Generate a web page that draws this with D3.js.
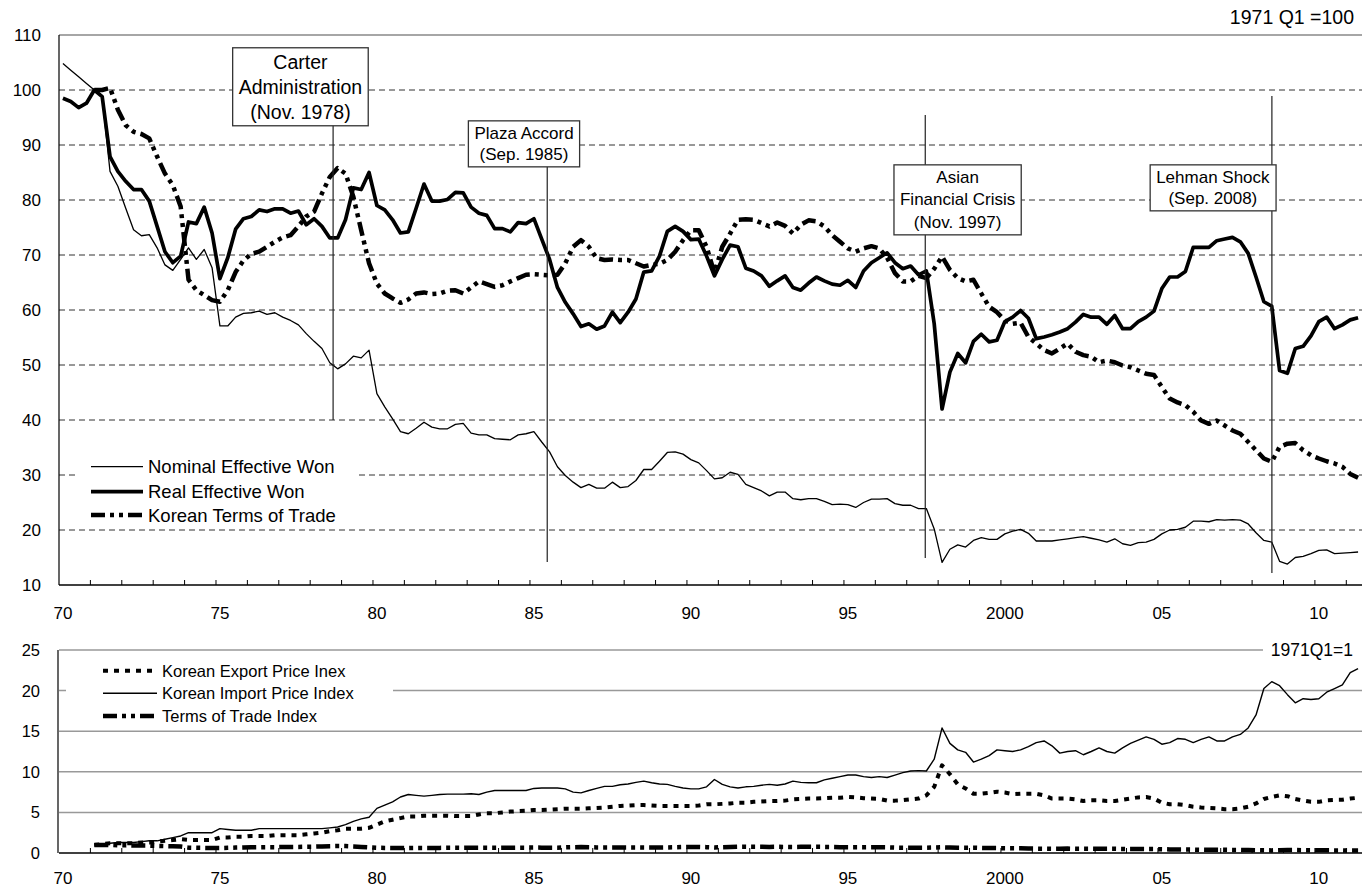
<!DOCTYPE html>
<html>
<head>
<meta charset="utf-8">
<script src="https://cdn.jsdelivr.net/npm/d3@7/dist/d3.min.js"></script>
<style>
  body { margin: 0; background: #fff; }
  svg { display: block; font-family: "Liberation Sans", Arial, sans-serif; }
</style>
</head>
<body>
<div id="chart"></div>
<script>
// ---- data (quarterly) ----
// top panel: 1970Q1 .. 2011Q2, 1971 Q1 = 100
const nominalWon = [
  104.8, 103.6, 102.4, 101.2,  100, 98.8, 85.2, 82.5,  78.5, 74.6, 73.5, 73.7,
  71.3, 68.2, 67.2, 69.2,  71.3, 69.2, 71, 67.7,  57.1, 57.1, 58.7, 59.4,
  59.5, 59.8, 59.2, 59.5,  58.7, 58.1, 57.3, 55.7,  54.3, 53, 50.4, 49.3,
  50.2, 51.6, 51.3, 52.7,  44.8, 42.4, 40.2, 37.9,  37.5, 38.5, 39.6, 38.7,
  38.4, 38.4, 39.2, 39.4,  37.6, 37.3, 37.3, 36.6,  36.5, 36.4, 37.3, 37.5,
  37.9, 36, 34.2, 31.5,  29.9, 28.7, 27.7, 28.3,  27.6, 27.6, 28.7, 27.7,
  27.9, 29, 31, 31,  32.5, 34.1, 34.2, 33.8,  32.8, 32.2, 30.8, 29.3,
  29.5, 30.5, 30.1, 28.3,  27.7, 27.1, 26.2, 26.9,  26.9, 25.7, 25.5, 25.7,
  25.7, 25.2, 24.6, 24.7,  24.6, 24.1, 25, 25.6,  25.6, 25.7, 24.8, 24.5,
  24.5, 23.9, 23.9, 20.2,  14.1, 16.5, 17.3, 16.9,  18.1, 18.6, 18.3, 18.3,
  19.3, 19.8, 20.1, 19.4,  18, 18, 18, 18.2,  18.4, 18.6, 18.8, 18.5,
  18.2, 17.8, 18.4, 17.5,  17.2, 17.7, 17.8, 18.3,  19.3, 20, 20.1, 20.5,
  21.6, 21.6, 21.5, 21.9,  21.8, 21.9, 21.8, 21.1,  19.5, 18.1, 17.8, 14.3,
  13.8, 15, 15.2, 15.7,  16.3, 16.4, 15.7, 15.8,  15.9, 16
];
const realWon = [
  98.5, 97.9, 96.8, 97.6,  100, 98.8, 87.9, 85.2,  83.4, 81.9, 81.9, 79.8,
  75.2, 70.6, 68.6, 69.8,  76, 75.7, 78.7, 74,  65.7, 69.5, 74.7, 76.6,
  77, 78.2, 77.9, 78.4,  78.4, 77.6, 78, 75.5,  76.6, 75.2, 73.1, 73.1,
  76.4, 82.2, 81.9, 85,  79, 78.2, 76.4, 74,  74.2, 78.5, 82.9, 79.8,
  79.8, 80.1, 81.4, 81.3,  78.7, 77.6, 77.2, 74.8,  74.8, 74.2, 75.9, 75.7,
  76.6, 72.9, 69.2, 64.1,  61.4, 59.3, 57, 57.5,  56.5, 57.1, 59.6, 57.7,
  59.6, 62, 66.9, 67.1,  69.8, 74.3, 75.2, 74.3,  72.8, 72.9, 69.8, 66.2,
  69.2, 71.8, 71.5, 67.6,  67.1, 66.2, 64.3, 65.3,  66.2, 64.1, 63.6, 64.9,
  66, 65.3, 64.7, 64.5,  65.4, 64.1, 67.1, 68.6,  69.5, 70.4, 68.6, 67.5,
  68, 66.4, 67.1, 57.5,  42, 48.7, 52.1, 50.4,  54.3, 55.6, 54.2, 54.5,
  57.9, 58.7, 59.9, 58.5,  54.8, 55.1, 55.5, 56,  56.6, 57.8, 59.2, 58.7,
  58.7, 57.4, 59, 56.6,  56.6, 57.9, 58.7, 59.8,  63.9, 66, 66, 67,
  71.4, 71.4, 71.4, 72.6,  72.9, 73.2, 72.4, 70.3,  66, 61.5, 60.7, 49,
  48.5, 53, 53.4, 55.3,  57.9, 58.7, 56.6, 57.3,  58.2, 58.6
];
// 1971Q1 .. 2011Q2
const termsOfTrade = [
  100, 100, 100.4, 96.4,  93.6, 92.4, 92, 91.2,  87.9, 84.8, 82.7, 78.8,
  65.5, 63.6, 62.7, 61.8,  61.5, 63.6, 66.9, 69,  70.2, 70.6, 71.5, 72.4,
  73.2, 73.6, 75.2, 77,  77.9, 81.2, 84.2, 85.8,  84.8, 80.6, 74.5, 68.5,
  64.8, 63, 62.1, 61.3,  61.9, 63, 63.2, 62.9,  63, 63.5, 63.6, 63,
  64.1, 65.2, 64.7, 64.2,  64.5, 65.2, 65.8, 66.4,  66.5, 66.4, 66.3, 66.4,
  68.5, 71.5, 72.7, 71.5,  69.4, 69.1, 69.2, 69.1,  69.1, 68.5, 67.9, 68.2,
  68.4, 69.1, 70.6, 72.7,  74.5, 74.5, 71.5, 66.7,  71.5, 73.9, 76.4, 76.5,
  76.4, 75.8, 75.2, 75.9,  75.3, 73.9, 75.5, 76.3,  76.1, 75.2, 73.6, 72.4,
  71.2, 70.6, 71.2, 71.6,  71.2, 69.5, 66.7, 65.2,  65.2, 66.2, 65.8, 67.5,
  69.7, 67.3, 65.8, 65.2,  65.5, 63, 60.6, 59.6,  58.1, 57.5, 57.7, 55.1,
  53.9, 52.7, 52.1, 53,  53.9, 52.4, 51.8, 51.5,  50.5, 50.8, 50.5, 49.9,
  49.6, 49, 48.4, 48.2,  46, 43.9, 43.2, 42.7,  41.5, 39.9, 39.3, 39.9,
  39, 38.1, 37.5, 36,  34.5, 33, 32.4, 35.1,  35.7, 35.8, 34.5, 33.6,
  33, 32.5, 32.1, 31.5,  30.2, 29.5
];

// bottom panel: 1971Q1 .. 2011Q2, 1971Q1 = 1
const exportPrice = [
  1, 1.1, 1.2, 1.2,  1.2, 1.2, 1.3, 1.3,  1.4, 1.5, 1.6, 1.7,  1.6, 1.6, 1.6, 1.6,
  1.9, 1.9, 2, 2,  2.1, 2.1, 2.1, 2.2,  2.2, 2.2, 2.2, 2.3,  2.4, 2.5, 2.7, 2.8,
  3, 3, 3, 3.1,  3.5, 3.9, 4.1, 4.3,  4.5, 4.5, 4.6, 4.6,  4.6, 4.6, 4.55, 4.55,
  4.55, 4.75, 4.9, 4.9,  5, 5.1, 5.15, 5.2,  5.3, 5.3, 5.35, 5.4,  5.45, 5.45, 5.45, 5.5,
  5.55, 5.6, 5.7, 5.8,  5.85, 5.9, 5.9, 5.85,  5.8, 5.8, 5.8, 5.8,  5.8, 5.85, 6, 6,
  6.05, 6.1, 6.2, 6.2,  6.3, 6.35, 6.4, 6.4,  6.45, 6.6, 6.65, 6.7,  6.7, 6.75, 6.8, 6.8,
  6.9, 6.85, 6.75, 6.7,  6.65, 6.45, 6.45, 6.5,  6.6, 6.7, 7.1, 8.15,  10.8, 9.7, 8.45, 7.95,
  7.3, 7.3, 7.4, 7.55,  7.45, 7.25, 7.3, 7.3,  7.3, 7.1, 6.7, 6.7,  6.7, 6.6, 6.4, 6.5,
  6.5, 6.4, 6.4, 6.55,  6.7, 6.85, 6.9, 6.7,  6.2, 6, 6, 5.9,  5.7, 5.6, 5.55, 5.5,
  5.4, 5.4, 5.5, 5.7,  6.1, 6.65, 6.9, 7.1,  7, 6.65, 6.45, 6.3,  6.3, 6.5, 6.55, 6.55,
  6.7, 6.8
];
const importPrice = [
  1, 1, 1.2, 1.3,  1.3, 1.3, 1.4, 1.5,  1.5, 1.7, 1.9, 2.1,  2.5, 2.5, 2.5, 2.5,
  3, 2.9, 2.8, 2.8,  2.8, 3, 3, 3,  3, 3, 3, 3,  3, 3, 3.1, 3.2,
  3.5, 3.9, 4.2, 4.4,  5.5, 5.9, 6.3, 6.9,  7.2, 7.1, 7, 7.1,  7.2, 7.25, 7.25, 7.25,
  7.3, 7.2, 7.5, 7.7,  7.7, 7.7, 7.7, 7.7,  7.95, 8, 8, 8,  7.9, 7.5, 7.4, 7.7,
  7.95, 8.2, 8.2, 8.4,  8.5, 8.7, 8.85, 8.65,  8.5, 8.45, 8.2, 8,  7.9, 7.9, 8.15, 9.05,
  8.45, 8.15, 8, 8.15,  8.2, 8.35, 8.45, 8.35,  8.5, 8.85, 8.7, 8.65,  8.65, 9, 9.2, 9.4,
  9.6, 9.6, 9.4, 9.3,  9.4, 9.3, 9.6, 9.9,  10.1, 10.15, 10.1, 11.55,  15.4, 13.5, 12.7, 12.4,
  11.2, 11.55, 12, 12.7,  12.6, 12.5, 12.7, 13.1,  13.6, 13.8, 13.2, 12.3,  12.5, 12.6, 12.1, 12.5,
  12.95, 12.5, 12.3, 12.95,  13.5, 13.9, 14.3, 14,  13.4, 13.6, 14.1, 14,  13.6, 14, 14.3, 13.8,
  13.8, 14.3, 14.6, 15.4,  17, 20.25, 21.1, 20.6,  19.5, 18.5, 19, 18.9,  19, 19.8, 20.25, 20.7,
  22.2, 22.7
];
const totIndex = [
  1, 1, 1, 0.96,  0.94, 0.92, 0.92, 0.91,  0.88, 0.85, 0.83, 0.79,  0.66, 0.64, 0.63, 0.62,
  0.62, 0.64, 0.67, 0.69,  0.7, 0.71, 0.72, 0.72,  0.73, 0.74, 0.75, 0.77,  0.78, 0.81, 0.84, 0.86,
  0.85, 0.81, 0.75, 0.69,  0.65, 0.63, 0.62, 0.61,  0.62, 0.63, 0.63, 0.63,  0.63, 0.64, 0.64, 0.63,
  0.64, 0.65, 0.65, 0.64,  0.65, 0.65, 0.66, 0.66,  0.67, 0.66, 0.66, 0.66,  0.69, 0.72, 0.73, 0.71,
  0.69, 0.69, 0.69, 0.69,  0.69, 0.69, 0.68, 0.68,  0.68, 0.69, 0.71, 0.73,  0.75, 0.75, 0.72, 0.67,
  0.72, 0.74, 0.76, 0.77,  0.76, 0.76, 0.75, 0.76,  0.75, 0.74, 0.76, 0.76,  0.76, 0.75, 0.74, 0.72,
  0.71, 0.71, 0.71, 0.72,  0.71, 0.7, 0.67, 0.65,  0.65, 0.66, 0.66, 0.68,  0.7, 0.67, 0.66, 0.65,
  0.66, 0.63, 0.61, 0.6,  0.58, 0.58, 0.58, 0.55,  0.54, 0.53, 0.52, 0.53,  0.54, 0.52, 0.52, 0.52,
  0.51, 0.51, 0.51, 0.5,  0.5, 0.49, 0.48, 0.48,  0.46, 0.44, 0.43, 0.43,  0.42, 0.4, 0.39, 0.4,
  0.39, 0.38, 0.38, 0.36,  0.35, 0.33, 0.32, 0.35,  0.36, 0.36, 0.35, 0.34,  0.33, 0.33, 0.32, 0.32,
  0.3, 0.3
];

const topTicks = [10, 20, 30, 40, 50, 60, 70, 80, 90, 100, 110];
const bottomTicks = [0, 5, 10, 15, 20, 25];
const yearLabels = [1970, 1975, 1980, 1985, 1990, 1995, 2000, 2005, 2010];
const yearLabelText = ["70", "75", "80", "85", "90", "95", "2000", "05", "10"];
const topLegend = ["Nominal Effective Won", "Real Effective Won", "Korean Terms of Trade"];
const bottomLegend = ["Korean Export Price Inex", "Korean Import Price Index", "Terms of Trade Index"];
const eventNames = [
  ["Carter", "Administration", "(Nov. 1978)"],
  ["Plaza Accord", "(Sep. 1985)"],
  ["Asian", "Financial Crisis", "(Nov. 1997)"],
  ["Lehman Shock", "(Sep. 2008)"]
];
const eventDates = [1978.73, 1985.55, 1997.59, 2008.63];

// ---- layout ----
const width = 1362, height = 889;
const dashDotDot = "14,5,4,5,4,5";

// where each event box sits and how far its line runs (value units)
const eventLayout = [
  { boxX: 1977.69, firstLine: 105.1, lineH: 25, size: 19.5, lineTop: 95, lineBottom: 40 },
  { boxX: 1984.81, firstLine: 92.2, lineH: 21, size: 17, lineTop: 93, lineBottom: 14.2 },
  { boxX: 1998.62, firstLine: 84.2, lineH: 22.5, size: 17, lineTop: 95.45, lineBottom: 14.9 },
  { boxX: 2006.75, firstLine: 84.2, lineH: 21, size: 17, lineTop: 98.9, lineBottom: 12.2 }
];

const svg = d3.select("#chart").append("svg")
  .attr("width", width)
  .attr("height", height);

const x = d3.scaleLinear().domain([1970, 2011.5]).range([59, 1362]);
const yTop = d3.scaleLinear().domain([10, 110]).range([585, 35]);
const yBot = d3.scaleLinear().domain([0, 25]).range([853, 650]);

function quarterPoints(values, startYear) {
  return values.map((v, i) => ({ t: startYear + (i + 0.5) / 4, v: v }));
}

function drawSeries(g, y, values, startYear, style) {
  const line = d3.line()
    .defined(d => d.v != null)
    .x(d => x(d.t))
    .y(d => y(d.v));
  g.append("path")
    .datum(quarterPoints(values, startYear))
    .attr("d", line)
    .attr("fill", "none")
    .attr("stroke", "#000")
    .attr("stroke-width", style.width)
    .attr("stroke-dasharray", style.dash || null)
    .attr("stroke-linejoin", "round");
}

function drawYearAxis(g, y0, labelY) {
  g.append("line")
    .attr("x1", x(1970)).attr("x2", x(2011.5))
    .attr("y1", y0).attr("y2", y0)
    .attr("stroke", "#000").attr("stroke-width", 1.6);
  g.selectAll(".tick")
    .data(d3.range(1971, 2012))
    .enter()
    .append("line")
    .attr("x1", d => x(d)).attr("x2", d => x(d))
    .attr("y1", y0 - 5).attr("y2", y0)
    .attr("stroke", "#000");
  g.selectAll(".yl")
    .data(yearLabels)
    .enter()
    .append("text")
    .attr("x", d => x(d + 0.125))
    .attr("y", labelY)
    .attr("text-anchor", "middle")
    .attr("font-size", "17px")
    .text((d, i) => yearLabelText[i]);
}

// ================= top panel =================
const topPanel = svg.append("g");

topPanel.selectAll(".grid")
  .data(topTicks.filter(d => d > 10 && d < 110))
  .enter()
  .append("line")
  .attr("x1", x(1970)).attr("x2", x(2011.5))
  .attr("y1", d => yTop(d)).attr("y2", d => yTop(d))
  .attr("stroke", "#333")
  .attr("stroke-dasharray", "6,4");

topPanel.append("line")
  .attr("x1", x(1970)).attr("x2", x(2011.5))
  .attr("y1", yTop(110)).attr("y2", yTop(110))
  .attr("stroke", "#888").attr("stroke-width", 1.5);

topPanel.append("line")
  .attr("x1", x(1970)).attr("x2", x(1970))
  .attr("y1", yTop(110)).attr("y2", yTop(10))
  .attr("stroke", "#000").attr("stroke-width", 1.2);

topPanel.selectAll(".ylab")
  .data(topTicks)
  .enter()
  .append("text")
  .attr("x", 41)
  .attr("y", d => yTop(d) + 6)
  .attr("text-anchor", "end")
  .attr("font-size", "17px")
  .text(d => d);

drawYearAxis(topPanel, yTop(10), 619);

// legend (white patch over the grid)
topPanel.append("rect")
  .attr("x", 75).attr("y", 453).attr("width", 282).attr("height", 74)
  .attr("fill", "#fff");

const topStyles = [
  { width: 1.3 },
  { width: 3.7 },
  { width: 4.5, dash: dashDotDot }
];

drawSeries(topPanel, yTop, nominalWon, 1970, topStyles[0]);
drawSeries(topPanel, yTop, realWon, 1970, topStyles[1]);
drawSeries(topPanel, yTop, termsOfTrade, 1971, topStyles[2]);

topLegend.forEach((name, i) => {
  const ly = [466.7, 491.7, 515][i];
  topPanel.append("line")
    .attr("x1", 91).attr("x2", 143).attr("y1", ly).attr("y2", ly)
    .attr("stroke", "#000")
    .attr("stroke-width", topStyles[i].width)
    .attr("stroke-dasharray", topStyles[i].dash || null);
  topPanel.append("text")
    .attr("x", 148).attr("y", ly + 6.5)
    .attr("font-size", "18.5px")
    .text(name);
});

// event lines and boxes
eventDates.forEach((d, i) => {
  const lay = eventLayout[i];
  topPanel.append("line")
    .attr("x1", x(d)).attr("x2", x(d))
    .attr("y1", yTop(lay.lineTop)).attr("y2", yTop(lay.lineBottom))
    .attr("stroke", "#222").attr("stroke-width", 1.2);
});

eventNames.forEach((lines, i) => {
  const lay = eventLayout[i];
  const g = topPanel.append("g");
  const box = g.append("rect");
  const t = g.append("text")
    .attr("text-anchor", "middle")
    .attr("font-size", lay.size + "px");
  lines.forEach((s, j) => {
    t.append("tspan")
      .attr("x", x(lay.boxX))
      .attr("y", yTop(lay.firstLine) + j * lay.lineH + lay.size * 0.35)
      .text(s);
  });
  const bb = t.node().getBBox();
  box.attr("x", bb.x - 6).attr("y", bb.y - 3)
    .attr("width", bb.width + 12).attr("height", bb.height + 6)
    .attr("fill", "#fff")
    .attr("stroke", "#333").attr("stroke-width", 1.3);
});

topPanel.append("text")
  .attr("x", 1354).attr("y", 24)
  .attr("text-anchor", "end")
  .attr("font-size", "19.5px")
  .text("1971 Q1 =100");

// ================= bottom panel =================
const botPanel = svg.append("g");

botPanel.selectAll(".grid")
  .data(bottomTicks.filter(d => d > 0))
  .enter()
  .append("line")
  .attr("x1", x(1970)).attr("x2", d => d === 25 ? 1263 : x(2011.5))
  .attr("y1", d => yBot(d)).attr("y2", d => yBot(d))
  .attr("stroke", "#999").attr("stroke-width", 1.5);

botPanel.append("line")
  .attr("x1", x(1970) - 1).attr("x2", x(1970) - 1)
  .attr("y1", yBot(25)).attr("y2", yBot(0))
  .attr("stroke", "#000").attr("stroke-width", 1.2);

botPanel.selectAll(".ylab")
  .data(bottomTicks)
  .enter()
  .append("text")
  .attr("x", 40)
  .attr("y", d => yBot(d) + 6)
  .attr("text-anchor", "end")
  .attr("font-size", "16.5px")
  .text(d => d);

botPanel.append("rect")
  .attr("x", 66).attr("y", 657).attr("width", 327).attr("height", 69)
  .attr("fill", "#fff");

const botStyles = [
  { width: 4, dash: "5,6" },
  { width: 1.4 },
  { width: 4.5, dash: dashDotDot }
];

drawSeries(botPanel, yBot, exportPrice, 1971, botStyles[0]);
drawSeries(botPanel, yBot, importPrice, 1971, botStyles[1]);
drawSeries(botPanel, yBot, totIndex, 1971, botStyles[2]);

drawYearAxis(botPanel, yBot(0), 884);

bottomLegend.forEach((name, i) => {
  const ly = [670.7, 693.3, 716][i];
  botPanel.append("line")
    .attr("x1", 103).attr("x2", 157).attr("y1", ly).attr("y2", ly)
    .attr("stroke", "#000")
    .attr("stroke-width", botStyles[i].width)
    .attr("stroke-dasharray", botStyles[i].dash || null);
  botPanel.append("text")
    .attr("x", 162).attr("y", ly + 6)
    .attr("font-size", "16.5px")
    .text(name);
});

botPanel.append("text")
  .attr("x", 1353).attr("y", yBot(25) + 6)
  .attr("text-anchor", "end")
  .attr("font-size", "17.5px")
  .text("1971Q1=1");
</script>
</body>
</html>
